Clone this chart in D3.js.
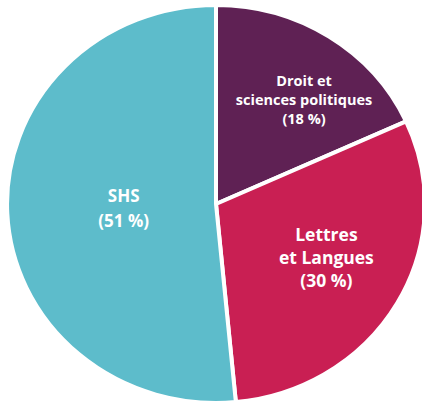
<!DOCTYPE html>
<html>
<head>
<meta charset="utf-8">
<script src="https://cdn.jsdelivr.net/npm/d3@7"></script>
<style>
  html, body { margin: 0; padding: 0; background: #fff; overflow: hidden; }
  svg { display: block; }
</style>
</head>
<body>
<div class="chart"></div>
<script>
/* Data */
const categories = ["Droit et sciences politiques", "Lettres et Langues", "SHS"];
const shares = [18, 30, 51];
const labelLines = [
  ["Droit et", "sciences politiques", "(18 %)"],
  ["Lettres", "et Langues", "(30 %)"],
  ["SHS", "(51 %)"]
];
const colors = ["#5f2154", "#c91f53", "#5dbccb"];

/* Dimensions */
const w = 422;
const h = 403;
const cx = 216;
const cy = 204;
const ry = 199;
const stretch = 1.05;   // the pie is slightly wider than tall

const svg = d3.select(".chart")
  .append("svg")
  .attr("width", w)
  .attr("height", h);

const pie = d3.pie()
  .sort(null)
  .value((d) => d);

const arc = d3.arc()
  .innerRadius(0)
  .outerRadius(ry);

const arcs = pie(shares);

const g = svg.append("g")
  .attr("transform", "translate(" + cx + "," + cy + ") scale(" + stretch + ",1)");

g.selectAll("path")
  .data(arcs)
  .enter()
  .append("path")
  .attr("d", arc)
  .attr("fill", (d, i) => colors[i])
  .attr("stroke", "#fff")
  .attr("stroke-width", 4)
  .attr("stroke-linejoin", "miter")
  .attr("vector-effect", "non-scaling-stroke");

/* Label placement: radius and angle nudge per slice */
const labelRadius = [134, 118, 88];
const angleNudge = [6, -3, 0];
const fontSizes = [14.5, 17.5, 17];
const lineGaps = [19, 23, 25];

arcs.forEach((d, i) => {
  const mid = (d.startAngle + d.endAngle) / 2 + angleNudge[i] * Math.PI / 180;
  const x = cx + stretch * labelRadius[i] * Math.sin(mid);
  const y = cy - labelRadius[i] * Math.cos(mid);
  const lines = labelLines[i];
  const top = y - (lines.length - 1) * lineGaps[i] / 2;
  const text = svg.append("text")
    .attr("text-anchor", "middle")
    .attr("fill", "#fff")
    .attr("font-family", "'Open Sans', sans-serif")
    .attr("font-weight", 700)
    .attr("font-size", fontSizes[i]);
  lines.forEach((line, j) => {
    text.append("tspan")
      .attr("x", x)
      .attr("y", top + j * lineGaps[i])
      .attr("dy", "0.35em")
      .text(line);
  });
});
</script>
</body>
</html>
